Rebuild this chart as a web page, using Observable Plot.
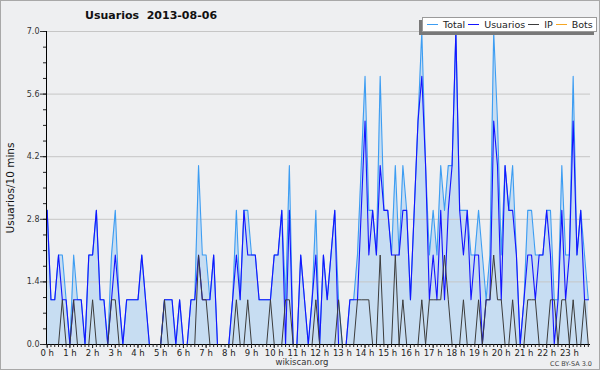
<!DOCTYPE html>
<html><head><meta charset="utf-8">
<script src="https://cdn.jsdelivr.net/npm/d3@7"></script>
<script src="https://cdn.jsdelivr.net/npm/@observablehq/plot@0.6"></script>
<style>
html,body{margin:0;padding:0;background:#eeeff1;}
#wrap{position:relative;width:600px;height:370px;overflow:hidden;background:#eeeff1;font-family:"DejaVu Sans",sans-serif;}
#wrap svg{position:absolute;left:0;top:0;}
#border{position:absolute;left:0;top:0;width:598px;height:368px;border:1px solid #a8a8a8;pointer-events:none;}
#title{position:absolute;left:85px;top:9px;font-size:11px;font-weight:bold;color:#111;white-space:pre;}
#legend{position:absolute;left:422px;top:17px;width:169px;height:13px;background:#fff;border:1px solid #9a9a9a;box-shadow:-3px 3px 0 #787878;display:flex;align-items:center;padding-left:4px;font-size:9.5px;color:#222;white-space:nowrap;}
#legend .sw{display:inline-block;width:11px;height:1.5px;margin-right:5px;}
#legend .tx{margin-right:3px;}
#foot{position:absolute;left:0;top:357px;width:604px;text-align:center;font-size:8.5px;line-height:10px;color:#333;}
#cc{position:absolute;right:8px;top:360px;font-size:6.5px;line-height:8px;color:#444;}
</style></head>
<body>
<div id="wrap"></div>
<script>
// 10-minute slots, 0h .. 23h50
const total    = [3,1,1,2,2,1,0,2,1,1,0,2,2,3,1,1,0,2,3,1,0,1,1,1,1,2,1,0,0,0,
                  0,1,1,1,0,1,0,0,1,1,4,2,2,1,2,0,0,0,0,1,3,1,3,3,2,2,1,1,1,1,
                  2,2,3,1,4,0,0,2,1,0,1,3,0,2,1,2,3,1,0,0,1,1,2,4,6,3,3,2,6,3,
                  3,2,4,2,4,3,1,3,5,7,4,2,3,2,4,3,4,4,7,3,3,3,2,2,3,2,1,2,7,5,
                  2,4,3,4,2,0,1,3,3,2,2,2,3,3,1,1,4,2,2,6,2,3,2,1];
const usuarios = [3,1,1,2,1,1,0,1,1,1,0,2,2,3,1,1,0,1,2,1,0,1,1,1,1,2,1,0,0,0,
                  0,1,1,1,0,1,0,0,1,1,2,1,1,1,2,0,0,0,0,1,2,1,3,2,2,2,1,1,1,1,
                  2,2,3,0,3,0,0,2,1,0,1,2,0,2,1,2,3,0,0,0,1,1,1,3,5,2,3,2,4,3,
                  3,2,2,2,3,3,1,3,5,6,4,1,2,1,3,1,3,4,7,3,2,3,1,2,2,0,1,1,5,4,
                  1,4,3,3,2,0,1,2,2,1,2,2,3,2,0,1,3,1,2,5,2,3,1,1];
const ip       = [0,0,0,0,1,0,0,1,0,0,0,0,1,0,0,0,0,1,1,0,0,0,0,0,0,0,0,0,0,0,
                  0,1,0,0,0,0,0,0,0,0,2,1,1,0,0,0,0,0,0,0,1,0,0,1,0,0,0,0,0,1,
                  0,0,0,1,1,0,0,0,0,0,0,1,0,0,0,0,0,1,0,0,0,0,1,1,1,1,0,0,2,0,
                  0,0,2,0,1,0,0,0,0,1,0,1,1,1,1,2,1,0,0,0,1,0,0,0,1,0,1,1,2,1,
                  1,0,0,1,0,0,0,1,1,1,0,0,0,1,1,0,1,1,0,1,0,0,1,0];
const hourTicks = d3.range(0, 24);
const yTicks = [0, 1.4, 2.8, 4.2, 5.6, 7.0];
const seriesNames = ["Total", "Usuarios", "IP", "Bots"];
const seriesColors = ["#3d9df2", "#1414ff", "#3c3c3c", "#f5a623"];

const rows = total.map((t, i) => ({h: i / 6, total: t, usuarios: usuarios[i], ip: ip[i]}));
const xDomain = [-0.03, 23.93];

const chart = Plot.plot({
  width: 600, height: 370,
  marginTop: 31, marginBottom: 26, marginLeft: 46, marginRight: 10,
  style: {background: "transparent", fontFamily: "DejaVu Sans, sans-serif", color: "#222"},
  x: {domain: xDomain},
  y: {domain: [0, 7]},
  marks: [
    Plot.areaY(rows, {x: "h", y: "total", fill: "#c7ddf2", fillOpacity: 1}),
    Plot.gridY({ticks: yTicks.slice(1), stroke: "#c6c6c6", strokeOpacity: 1}),
    Plot.lineY(rows, {x: "h", y: "total", stroke: seriesColors[0], strokeWidth: 1.1}),
    Plot.lineY(rows, {x: "h", y: "usuarios", stroke: seriesColors[1], strokeWidth: 1.1}),
    Plot.lineY(rows, {x: "h", y: "ip", stroke: seriesColors[2], strokeWidth: 1}),
    Plot.ruleY([0], {stroke: "#000"}),
    Plot.ruleX([xDomain[0]], {stroke: "#000"}),
    Plot.axisY({ticks: yTicks, tickFormat: ".1f", tickSize: 6, tickPadding: 1, fontSize: 8, label: null, color: "#333"}),
    Plot.axisY({ticks: d3.range(0, 21).map(k => k * 0.35), tickSize: 3, tickFormat: () => "", label: null}),
    Plot.axisX({ticks: hourTicks, tickFormat: d => d + " h", tickSize: 4, tickPadding: 1, fontSize: 8.5, label: null, color: "#222"}),
    Plot.axisX({ticks: d3.range(0, 144).map(i => i / 6), tickSize: 3, tickFormat: () => "", label: null}),
    Plot.text(["Usuarios/10 mins"], {frameAnchor: "left", textAnchor: "middle", rotate: -90, dx: -36, fontSize: 10.5, fill: "#111"})
  ]
});
const wrap = document.getElementById("wrap");
wrap.appendChild(chart);

const title = document.createElement("div");
title.id = "title"; title.textContent = "Usuarios  2013-08-06";
wrap.appendChild(title);

const legend = document.createElement("div");
legend.id = "legend";
seriesNames.forEach((n, k) => {
  const sw = document.createElement("span"); sw.className = "sw"; sw.style.background = seriesColors[k];
  const tx = document.createElement("span"); tx.className = "tx"; tx.textContent = n;
  legend.appendChild(sw); legend.appendChild(tx);
});
wrap.appendChild(legend);

const foot = document.createElement("div"); foot.id = "foot"; foot.textContent = "wikiscan.org"; wrap.appendChild(foot);
const cc = document.createElement("div"); cc.id = "cc"; cc.textContent = "CC BY-SA 3.0"; wrap.appendChild(cc);
const border = document.createElement("div"); border.id = "border"; wrap.appendChild(border);
</script>
</body></html>
